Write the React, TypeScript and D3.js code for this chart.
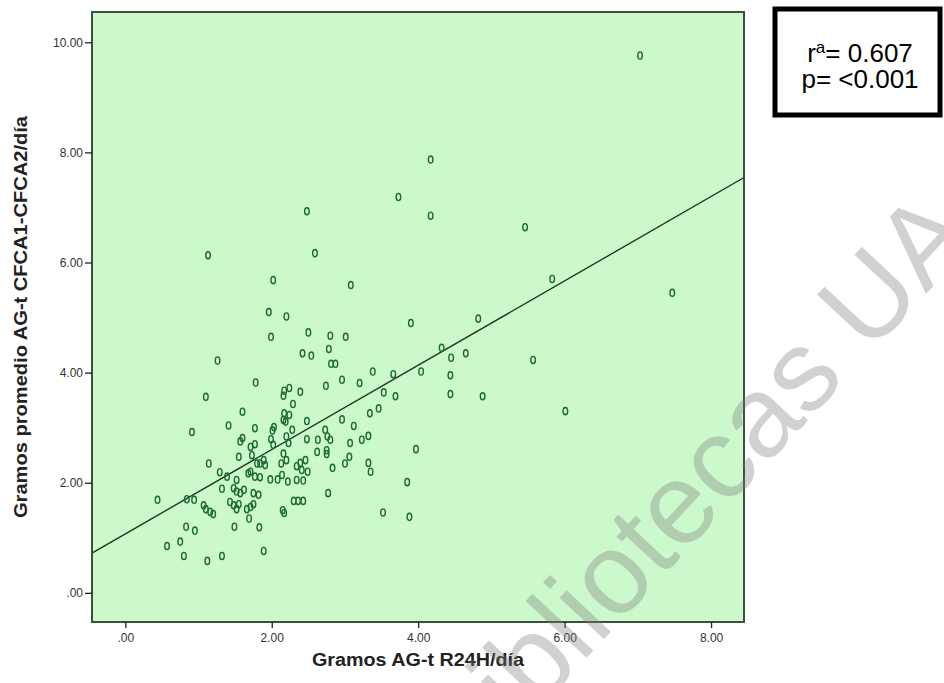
import * as d3 from "d3"
import { useEffect, useRef } from "react"

// Gramos AG-t R24H/día (x) vs Gramos promedio AG-t CFCA1-CFCA2/día (y)
const xValues = [
  7.03, 4.17, 3.73, 2.48, 4.17, 5.46, 1.13, 2.59, 5.83, 2.02,
  3.08, 7.47, 1.96, 2.2, 3.9, 4.82, 1.99, 2.5, 2.8, 3.01,
  2.78, 2.42, 2.54, 2.81, 2.87, 4.32, 4.45, 4.65, 5.57, 1.26,
  3.38, 3.66, 4.04, 4.44, 2.96, 2.74, 3.2, 1.78, 3.53, 3.69,
  4.44, 4.88, 2.17, 2.24, 2.16, 2.39, 1.1, 2.29, 3.34, 3.46,
  1.6, 2.17, 2.24, 2.16, 2.19, 2.48, 2.96, 3.12, 1.41, 1.77,
  2.03, 2.01, 2.28, 2.73, 2.76, 2.8, 0.91, 1.99, 2.02, 2.2,
  2.23, 2.48, 2.63, 3.07, 3.23, 3.32, 1.6, 1.71, 1.77, 1.57,
  3.97, 1.73, 1.55, 1.14, 2.62, 2.16, 2.2, 2.13, 2.46, 2.39,
  2.34, 2.49, 2.41, 2.75, 2.75, 3.06, 3.0, 2.83, 3.32, 3.35,
  1.89, 1.84, 1.91, 1.8, 1.71, 1.77, 1.84, 1.98, 2.08, 2.14,
  2.22, 2.34, 2.43, 3.85, 1.29, 1.39, 1.52, 1.48, 1.52, 1.57,
  1.62, 1.68, 1.32, 1.75, 1.82, 2.77, 0.44, 0.84, 0.94, 1.43,
  1.48, 1.52, 1.66, 1.71, 1.75, 1.69, 1.07, 1.1, 1.16, 1.2,
  2.3, 2.36, 2.43, 2.15, 2.17, 0.83, 0.95, 1.49, 1.83, 0.57,
  0.75, 0.8, 1.12, 1.32, 1.89, 3.52, 3.88, 1.55, 6.01,
]
const yValues = [
  9.76, 7.87, 7.19, 6.93, 6.85, 6.64, 6.13, 6.17, 5.7, 5.68,
  5.59, 5.45, 5.1, 5.02, 4.9, 4.98, 4.65, 4.73, 4.67, 4.65,
  4.43, 4.35, 4.31, 4.16, 4.16, 4.45, 4.27, 4.35, 4.23, 4.22,
  4.02, 3.97, 4.02, 3.95, 3.87, 3.76, 3.81, 3.82, 3.64, 3.57,
  3.61, 3.57, 3.67, 3.72, 3.58, 3.65, 3.56, 3.43, 3.26, 3.35,
  3.29, 3.26, 3.23, 3.14, 3.11, 3.12, 3.15, 3.03, 3.04, 2.99,
  3.01, 2.95, 2.96, 2.96, 2.84, 2.78, 2.92, 2.79, 2.69, 2.84,
  2.72, 2.79, 2.78, 2.72, 2.78, 2.85, 2.81, 2.65, 2.7, 2.75,
  2.61, 2.5, 2.47, 2.35, 2.56, 2.53, 2.41, 2.35, 2.41, 2.36,
  2.3, 2.2, 2.23, 2.59, 2.52, 2.47, 2.35, 2.27, 2.36, 2.2,
  2.41, 2.35, 2.32, 2.35, 2.2, 2.11, 2.1, 2.06, 2.06, 2.14,
  2.02, 2.05, 2.04, 2.01, 2.19, 2.11, 2.05, 1.9, 1.84, 1.81,
  1.87, 2.17, 1.89, 1.81, 1.78, 1.81, 1.69, 1.7, 1.69, 1.65,
  1.59, 1.52, 1.52, 1.56, 1.61, 1.35, 1.59, 1.52, 1.47, 1.43,
  1.67, 1.67, 1.67, 1.5, 1.45, 1.2, 1.13, 1.2, 1.19, 0.85,
  0.93, 0.67, 0.58, 0.67, 0.76, 1.46, 1.38, 1.61, 3.3,
]

const xTicks = [0, 2, 4, 6, 8]
const xTickLabels = [".00", "2.00", "4.00", "6.00", "8.00"]
const yTicks = [0, 2, 4, 6, 8, 10]
const yTickLabels = [".00", "2.00", "4.00", "6.00", "8.00", "10.00"]

// fitted line y = a + b x
const fitIntercept = 1.07
const fitSlope = 0.766

const statLines = ["= 0.607", "p= <0.001"]

export default function App() {
  const ref = useRef<SVGSVGElement | null>(null)

  useEffect(() => {
    if (!ref.current) return
    const width = 944
    const height = 683
    const plot = { left: 92, right: 744, top: 12, bottom: 622 }
    const narrow = "'Liberation Sans Narrow', 'Arial Narrow', 'Liberation Sans', Arial, sans-serif"
    const sans = "'Liberation Sans', Arial, sans-serif"

    const svg = d3.select(ref.current)
    svg.selectAll("*").remove()
    svg.attr("width", width).attr("height", height)

    const x = d3.scaleLinear().domain([-0.455, 8.45]).range([plot.left, plot.right])
    const y = d3.scaleLinear().domain([-0.53, 10.55]).range([plot.bottom, plot.top])

    svg.append("rect").attr("width", width).attr("height", height).attr("fill", "#fff")

    svg
      .append("rect")
      .attr("x", plot.left)
      .attr("y", plot.top)
      .attr("width", plot.right - plot.left)
      .attr("height", plot.bottom - plot.top)
      .attr("fill", "#ccf9cc")

    svg
      .append("clipPath")
      .attr("id", "plotclip")
      .append("rect")
      .attr("x", plot.left)
      .attr("y", plot.top)
      .attr("width", plot.right - plot.left)
      .attr("height", plot.bottom - plot.top)

    // regression line
    const [x0, x1] = x.domain()
    svg
      .append("line")
      .attr("clip-path", "url(#plotclip)")
      .attr("x1", x(x0))
      .attr("y1", y(fitIntercept + fitSlope * x0))
      .attr("x2", x(x1))
      .attr("y2", y(fitIntercept + fitSlope * x1))
      .attr("stroke", "#1c3a1c")
      .attr("stroke-width", 1.4)

    // points
    svg
      .append("g")
      .selectAll("ellipse")
      .data(xValues.map((v, i) => [v, yValues[i]]))
      .join("ellipse")
      .attr("cx", (d) => x(d[0]))
      .attr("cy", (d) => y(d[1]))
      .attr("rx", 2.3)
      .attr("ry", 3.6)
      .attr("fill", "none")
      .attr("stroke", "#1d6b34")
      .attr("stroke-width", 1.4)

    svg
      .append("rect")
      .attr("x", plot.left)
      .attr("y", plot.top)
      .attr("width", plot.right - plot.left)
      .attr("height", plot.bottom - plot.top)
      .attr("fill", "none")
      .attr("stroke", "#3d4f3d")
      .attr("stroke-width", 2)

    // axes
    const xAxis = svg
      .append("g")
      .attr("transform", `translate(0,${plot.bottom})`)
      .call(
        d3
          .axisBottom(x)
          .tickValues(xTicks)
          .tickSize(6)
          .tickFormat((_, i) => xTickLabels[i])
      )
    xAxis.select(".domain").remove()
    xAxis.selectAll("line").attr("stroke", "#222").attr("stroke-width", 1.3)
    xAxis
      .selectAll("text")
      .attr("font-family", narrow)
      .attr("font-size", 12)
      .attr("fill", "#333")
      .attr("dy", "0.95em")

    const yAxis = svg
      .append("g")
      .attr("transform", `translate(${plot.left},0)`)
      .call(
        d3
          .axisLeft(y)
          .tickValues(yTicks)
          .tickSize(7)
          .tickPadding(2)
          .tickFormat((_, i) => yTickLabels[i])
      )
    yAxis.select(".domain").remove()
    yAxis.selectAll("line").attr("stroke", "#222").attr("stroke-width", 1.3)
    yAxis
      .selectAll("text")
      .attr("font-family", narrow)
      .attr("font-size", 12)
      .attr("fill", "#333")

    svg
      .append("text")
      .attr("x", (plot.left + plot.right) / 2)
      .attr("y", 666)
      .attr("text-anchor", "middle")
      .attr("font-family", narrow)
      .attr("font-weight", "bold")
      .attr("font-size", 18)
      .attr("textLength", 212)
      .attr("lengthAdjust", "spacingAndGlyphs")
      .attr("fill", "#222")
      .text("Gramos AG-t R24H/día")

    svg
      .append("text")
      .attr("transform", `translate(27,${(plot.top + plot.bottom) / 2}) rotate(-90)`)
      .attr("text-anchor", "middle")
      .attr("font-family", narrow)
      .attr("font-weight", "bold")
      .attr("font-size", 18)
      .attr("textLength", 402)
      .attr("lengthAdjust", "spacingAndGlyphs")
      .attr("fill", "#222")
      .text("Gramos promedio AG-t CFCA1-CFCA2/día")

    // statistics box
    svg
      .append("rect")
      .attr("x", 775)
      .attr("y", 9)
      .attr("width", 165)
      .attr("height", 106)
      .attr("fill", "#fff")
      .attr("stroke", "#000")
      .attr("stroke-width", 5)

    const stat = svg
      .append("text")
      .attr("font-family", sans)
      .attr("font-size", 26)
      .attr("fill", "#000")
      .attr("text-anchor", "middle")
    const l1 = stat.append("tspan").attr("x", 860).attr("y", 62)
    l1.append("tspan").text("r")
    l1.append("tspan").attr("font-size", 17).attr("dy", -9).text("a")
    l1.append("tspan").attr("dy", 9).text(statLines[0])
    stat.append("tspan").attr("x", 860).attr("y", 88).text(statLines[1])

    // watermark
    svg
      .append("text")
      .attr("transform", "translate(468,785) rotate(-47)")
      .attr("font-family", sans)
      .attr("font-size", 115)
      .attr("fill", "#7a7a7a")
      .attr("fill-opacity", 0.35)
      .text("Bibliotecas UA")
  }, [])

  return <svg ref={ref} style={{ position: "absolute", left: 0, top: 0, display: "block" }} />
}
